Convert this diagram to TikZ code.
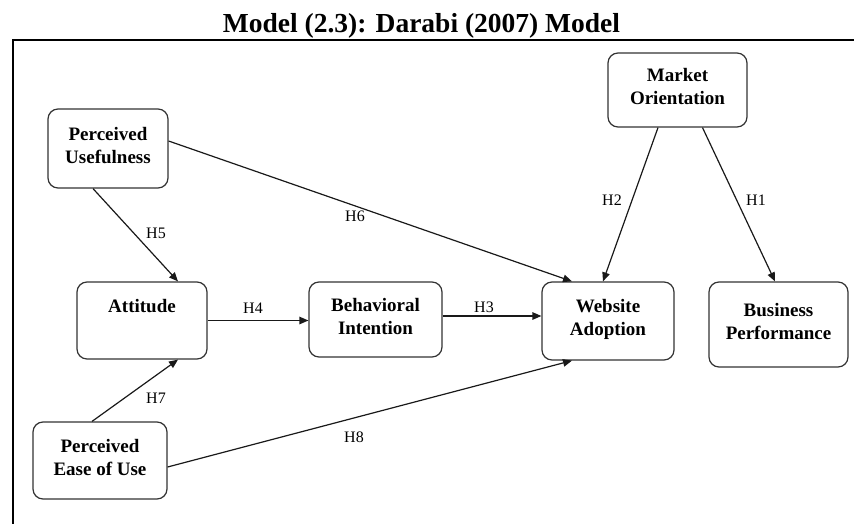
\documentclass[tikz,border=0pt]{standalone}
\usepackage{fontspec}
\setmainfont{Liberation Serif}
\usetikzlibrary{arrows.meta,calc}
\begin{document}
\begin{tikzpicture}[x=1pt,y=-1pt,
  box/.style={draw=black!80, line width=1.2pt, rounded corners=10pt, fill=white,
    align=center, inner sep=0pt, font=\fontsize{19}{23}\selectfont\bfseries,
    execute at end node=\strut},
  link/.style={draw=black!90, line width=1.2pt, -{Triangle[length=9pt,width=7.5pt]}},
  hyp/.style={font=\fontsize{16}{18}\selectfont, inner sep=0pt},
  frameline/.style={line width=2pt}]
\useasboundingbox (0,0) rectangle (854,524);

% title and frame
\node[font=\fontsize{27.5}{30}\selectfont\bfseries, anchor=base, inner sep=0pt] (title) at (421.5,33) {Model (2.3): Darabi (2007) Model};
\coordinate (frTR) at (854,40);
\coordinate (frTL) at (13,40);
\coordinate (frBL) at (13,524);
\draw[frameline] (frTR) -- (frTL) -- (frBL);

% constructs
\node[box, minimum width=120pt, minimum height=79pt] (pu)  at (108,148.5) {Perceived\\Usefulness};
\node[box, minimum width=130pt, minimum height=77pt] (att) at (142,320.5) {Attitude\\};
\node[box, minimum width=134pt, minimum height=77pt] (peu) at (100,460.5) {Perceived\\Ease of Use};
\node[box, minimum width=133pt, minimum height=75pt] (bi)  at (375.5,319.5) {Behavioral\\Intention};
\node[box, minimum width=132pt, minimum height=78pt] (wa)  at (608,321) {Website\\Adoption};
\node[box, minimum width=139pt, minimum height=85pt] (bp)  at (778.5,324.5) {Business\\Performance};
\node[box, minimum width=139pt, minimum height=74pt] (mo)  at (677.5,90) {Market\\Orientation};

% hypothesised paths
\draw[link] ($(mo.south)+(25,0)$)   -- ($(bp.north)+(-3.5,0)$);
\draw[link] ($(mo.south)+(-19.5,0)$) -- ($(wa.north)+(-5,0)$);
\draw[link] ($(bi.east)+(0,-3.5)$)  -- ($(wa.west)+(0,-5)$);
\draw[link] (att.east) -- (att.east -| bi.west);
\draw[link] ($(pu.south)+(-15,0)$)  -- ($(att.north)+(36,0)$);
\draw[link] ($(pu.east)+(0,-7.5)$)  -- ($(wa.north)+(-36,0)$);
\draw[link] ($(peu.north)+(-8,0)$)  -- ($(att.south)+(36,0)$);
\draw[link] ($(peu.east)+(0,6.5)$)  -- ($(wa.south)+(-36,0)$);

% path labels
\node[hyp] (h1) at (756,200) {H1};
\node[hyp] (h2) at (612,200) {H2};
\node[hyp] (h3) at (484,307.5) {H3};
\node[hyp] (h4) at (253,307.8) {H4};
\node[hyp] (h5) at (156,233) {H5};
\node[hyp] (h6) at (355,216) {H6};
\node[hyp] (h7) at (156,398) {H7};
\node[hyp] (h8) at (354,437) {H8};
\end{tikzpicture}
\end{document}
